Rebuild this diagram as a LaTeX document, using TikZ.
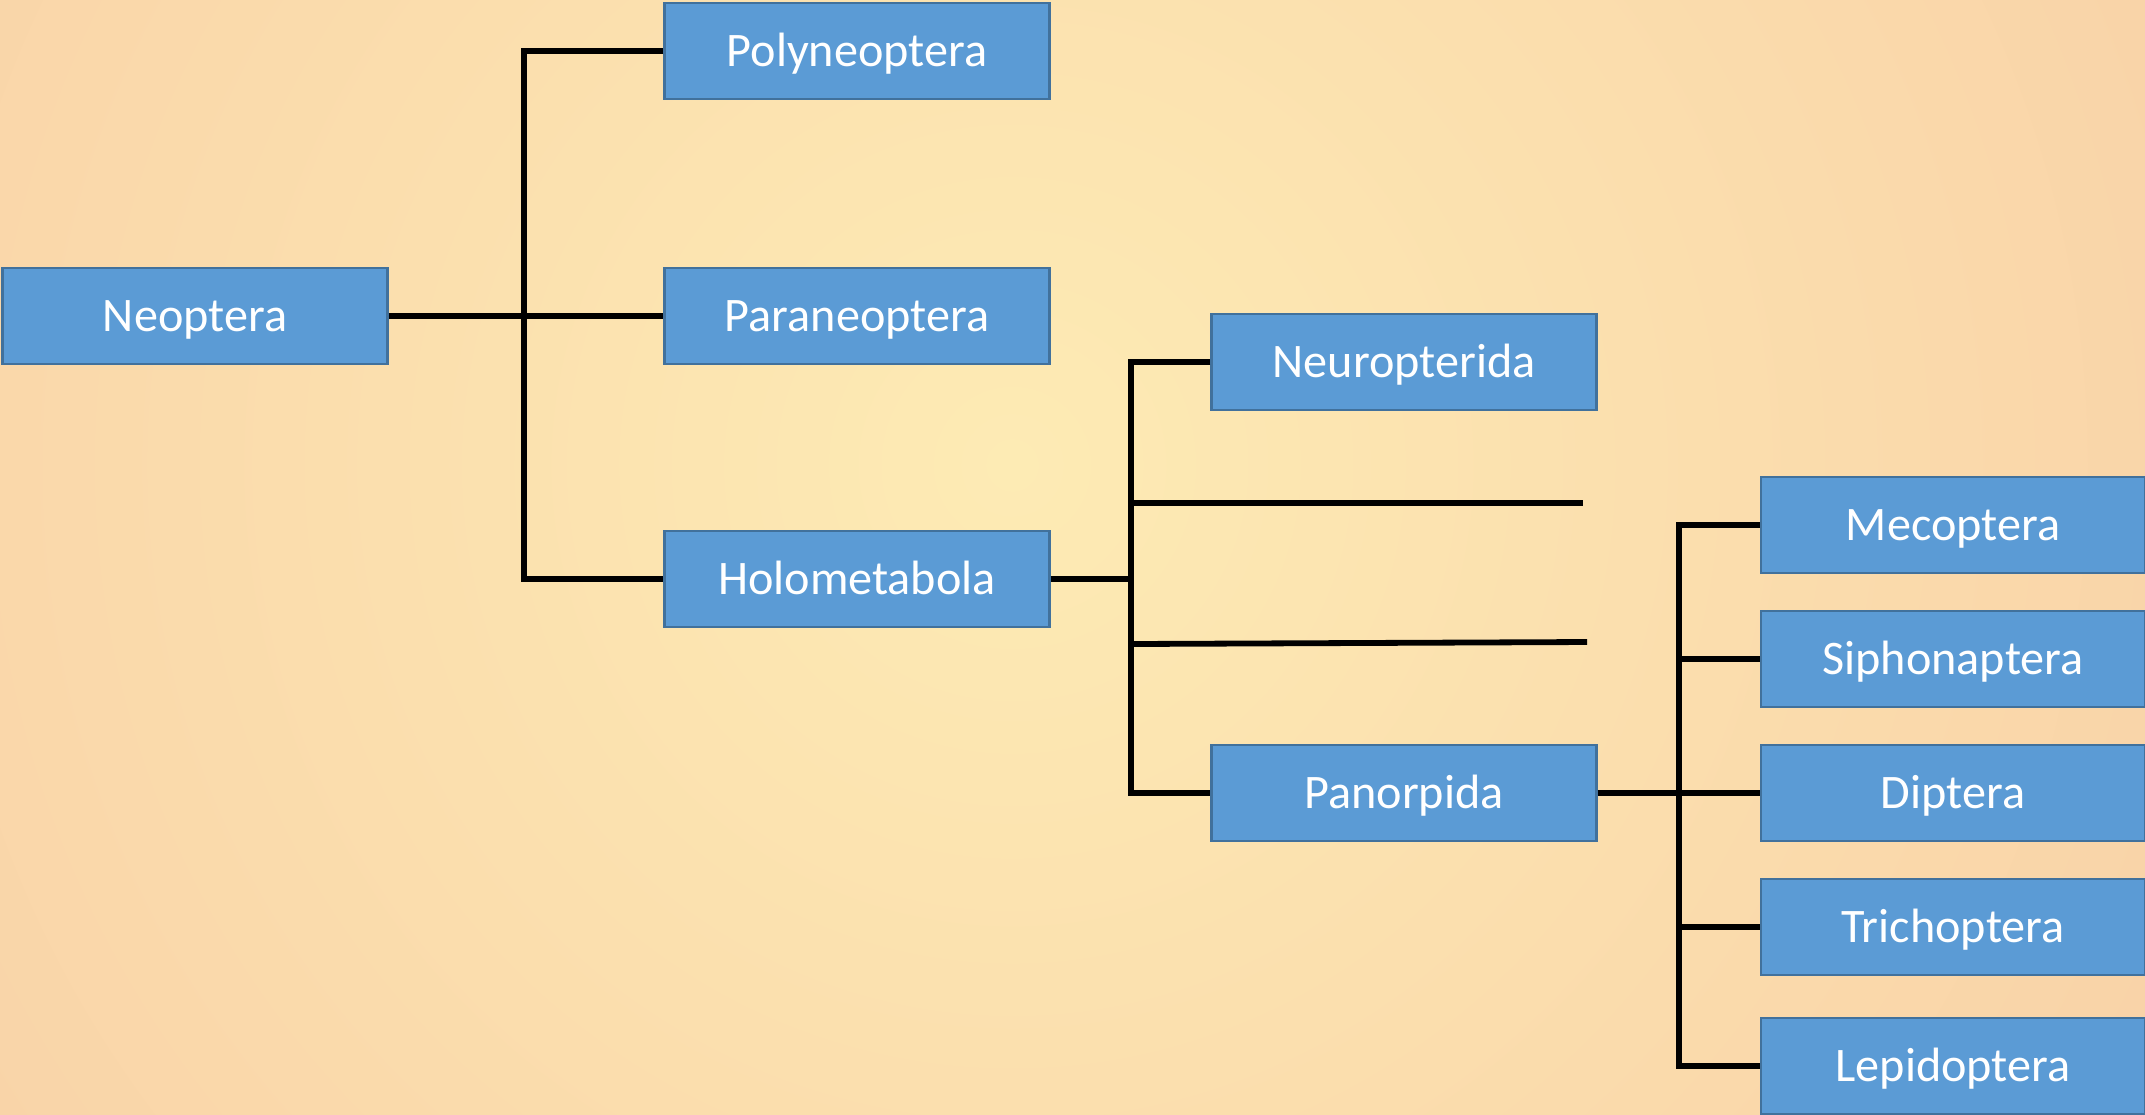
\documentclass[tikz,border=0pt]{standalone}
\usepackage{fontspec}
\setmainfont{Carlito}
\usepackage{xcolor}
\definecolor{boxblue}{HTML}{5B9BD5}
\definecolor{boxedge}{HTML}{41719C}
\definecolor{bgmid}{HTML}{FDEBB4}
\definecolor{bgedge}{HTML}{F6C29F}

\begin{document}
\begin{tikzpicture}[x=0.01cm,y=-0.01cm,
  taxon/.style={minimum width=3.84cm,minimum height=0.96cm,inner sep=0pt,
    draw=boxedge,line width=0.8pt,fill=boxblue,text=white,
    text height=0.31cm,text depth=0pt,
    font=\fontsize{13.7}{16}\selectfont},
  branch/.style={line width=0.058cm,black}]
\useasboundingbox (0,0) rectangle (2145,1114);
\clip (0,0) rectangle (2145,1114);
\shade[inner color=bgmid,outer color=bgedge] (1012,465) circle (2150);

% taxa
\draw (195,316) node[taxon](neo) {Neoptera};
\draw (857,51) node[taxon](poly) {Polyneoptera};
\draw (857,316) node[taxon](para) {Paraneoptera};
\draw (857,579) node[taxon](holo) {Holometabola};
\draw (1404,362) node[taxon](neur) {Neuropterida};
\draw (1404,793) node[taxon](pano) {Panorpida};
\draw (1953,525) node[taxon](meco) {Mecoptera};
\draw (1953,659) node[taxon](siph) {Siphonaptera};
\draw (1953,793) node[taxon](dipt) {Diptera};
\draw (1953,927) node[taxon](tric) {Trichoptera};
\draw (1953,1066) node[taxon](lepi) {Lepidoptera};

% joints and loose ends
\coordinate (j1) at (524,316);
\coordinate (j2) at (1131,579);
\coordinate (j3) at (1679,793);
\coordinate (s1) at (1583,503);
\coordinate (s2) at (1587,642);

% branches
\draw[branch] (neo.east) -- (para.west);
\draw[branch] (poly.west) -- (poly.west -| j1) |- (holo.west);
\draw[branch] (holo.east) -- (j2);
\draw[branch] (neur.west) -- (neur.west -| j2) |- (pano.west);
\draw[branch] (s1 -| j2) -- (s1);
\draw[branch] (1131,644) -- (s2);
\draw[branch] (pano.east) -- (dipt.west);
\draw[branch] (meco.west) -- (meco.west -| j3) |- (lepi.west);
\draw[branch] (siph.west) -- (siph.west -| j3);
\draw[branch] (tric.west) -- (tric.west -| j3);
\end{tikzpicture}
\end{document}
